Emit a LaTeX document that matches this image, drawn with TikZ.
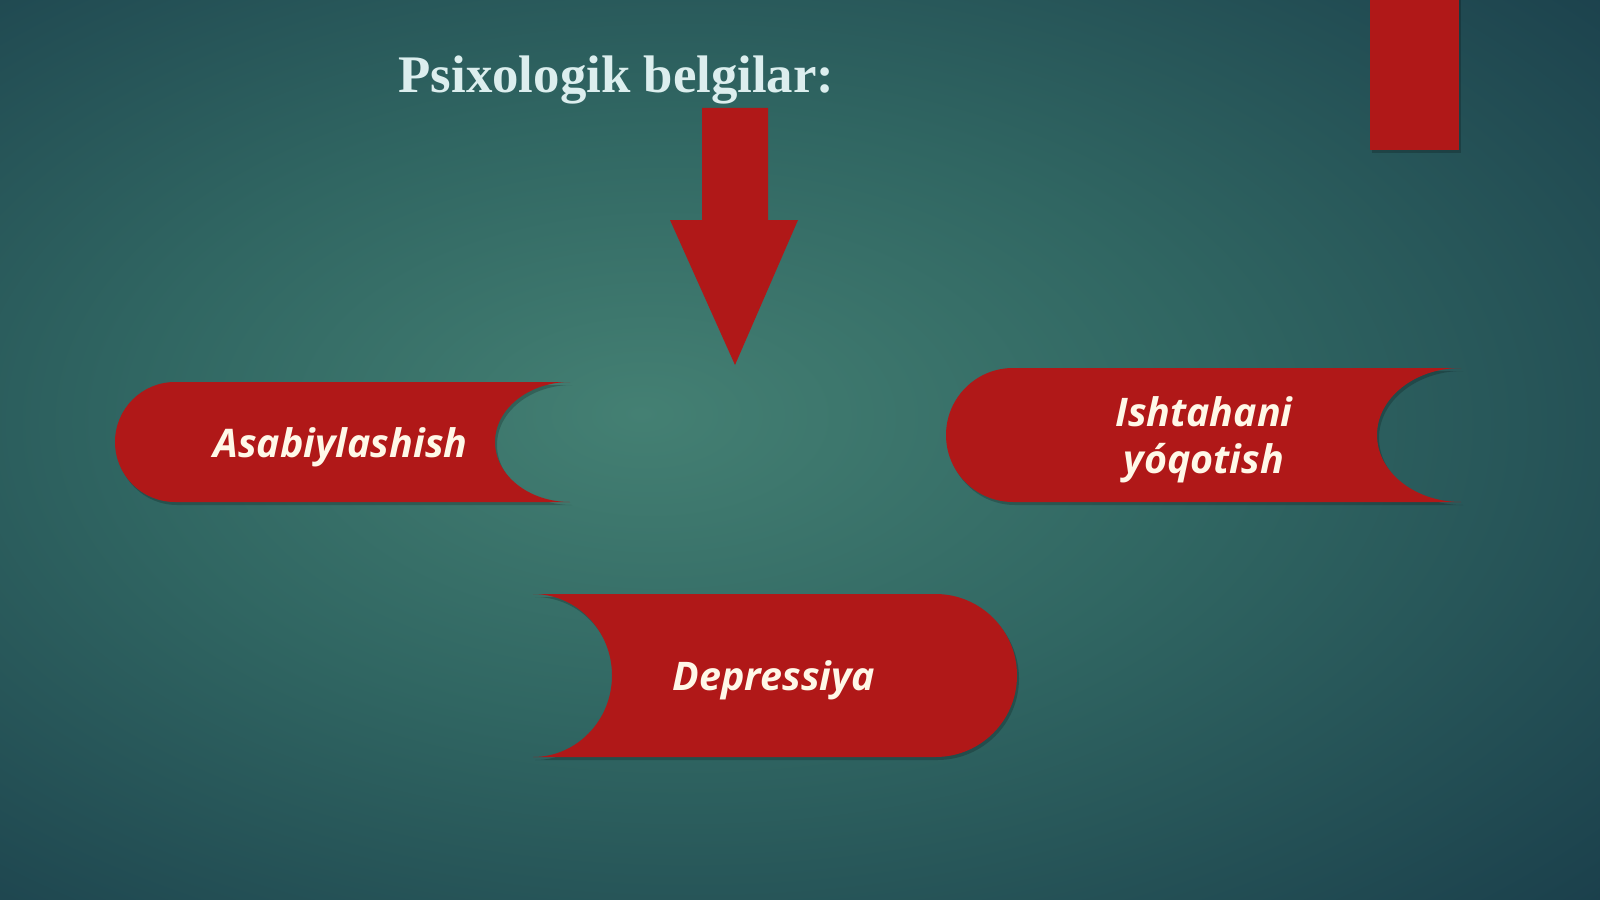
\documentclass[tikz,border=0pt]{standalone}
\usepackage{fontspec}
\setmainfont{Liberation Serif}
\newfontfamily\osans{Open Sans}
\definecolor{bgin}{RGB}{68,128,115}
\definecolor{bgmid}{RGB}{48,102,98}
\definecolor{bgout}{RGB}{27,64,76}
\definecolor{bgcorner}{RGB}{17,46,60}
\definecolor{redfill}{RGB}{176,24,24}
\definecolor{titlecol}{RGB}{220,238,238}
\definecolor{labcol}{RGB}{255,248,232}
\pgfdeclareradialshading{bgshade}{\pgfpoint{-5bp}{2bp}}{color(0bp)=(bgin); color(17bp)=(bgmid); color(38bp)=(bgout); color(62bp)=(bgcorner); color(80bp)=(bgcorner)}
\tikzset{
  redshape/.style={fill=redfill},
  shadowshape/.style={fill=black, opacity=0.2},
  label text/.style={text=labcol, font=\osans\bfseries\itshape\fontsize{19.7pt}{23.5pt}\selectfont, inner sep=0pt, align=center},
  title text/.style={text=titlecol, font=\bfseries\fontsize{26.4pt}{30pt}\selectfont, inner sep=0pt}
}
\begin{document}
\begin{tikzpicture}[x=0.5pt,y=-0.5pt]
\path[use as bounding box, shading=bgshade] (0,0) rectangle (1600,899);
% top-right bar
\fill[shadowshape] (1372,0) rectangle (1461,153);
\fill[redshape] (1370,0) rectangle (1459,150);
% title
\node[title text, anchor=base] (title) at (616.5,93) {Psixologik belgilar:};
% block arrow
\fill[redshape] (702,108) -- (768,108) -- (768,220) -- (798,220) -- (735,365) -- (670,220) -- (702,220) -- cycle;
% shape A
\fill[shadowshape, shift={(2,3)}] (175,382) -- (570,382) arc[start angle=-90,end angle=-270,x radius=75,y radius=60] -- (175,502) arc[start angle=90,end angle=270,radius=60] -- cycle;
\fill[redshape] (175,382) -- (570,382) arc[start angle=-90,end angle=-270,x radius=75,y radius=60] -- (175,502) arc[start angle=90,end angle=270,radius=60] -- cycle;
\node[label text, anchor=base] (asab) at (340.5,457) {Asabiylashish};
% shape I
\fill[shadowshape, shift={(2,3)}] (1013,368) -- (1461,368) arc[start angle=-90,end angle=-270,x radius=84,y radius=67] -- (1013,502) arc[start angle=90,end angle=270,radius=67] -- cycle;
\fill[redshape] (1013,368) -- (1461,368) arc[start angle=-90,end angle=-270,x radius=84,y radius=67] -- (1013,502) arc[start angle=90,end angle=270,radius=67] -- cycle;
\node[label text] (isht) at (1204,440) {Ishtahani\\yóqotish};
% shape D
\fill[shadowshape, shift={(2,3)}] (533,594) -- (935.5,594) arc[start angle=-90,end angle=90,radius=81.5] -- (533,757) arc[start angle=90,end angle=-90,x radius=79,y radius=81.5] -- cycle;
\fill[redshape] (533,594) -- (935.5,594) arc[start angle=-90,end angle=90,radius=81.5] -- (533,757) arc[start angle=90,end angle=-90,x radius=79,y radius=81.5] -- cycle;
\node[label text, anchor=base] (depr) at (774,690) {Depressiya};
\end{tikzpicture}
\end{document}
